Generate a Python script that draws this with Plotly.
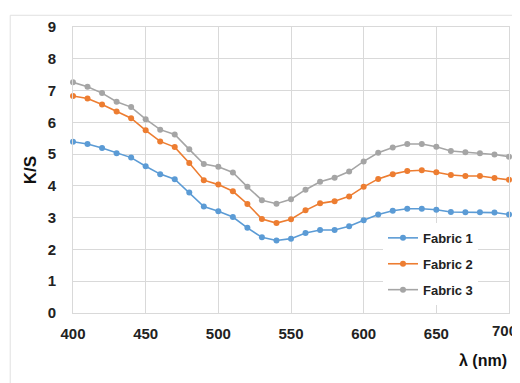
import plotly.graph_objects as go

wavelength = list(range(400, 701, 10))

fabric1 = [5.39, 5.32, 5.19, 5.03, 4.89, 4.62, 4.37, 4.21, 3.79, 3.35, 3.20,
           3.02, 2.68, 2.38, 2.28, 2.34, 2.52, 2.61, 2.61, 2.73, 2.92,
           3.10, 3.22, 3.28, 3.28, 3.25, 3.18, 3.17, 3.17, 3.16, 3.10]
fabric2 = [6.83, 6.75, 6.56, 6.34, 6.13, 5.75, 5.40, 5.22, 4.72, 4.18, 4.04,
           3.83, 3.43, 2.96, 2.83, 2.95, 3.23, 3.45, 3.52, 3.67, 3.97,
           4.22, 4.37, 4.47, 4.49, 4.43, 4.34, 4.31, 4.31, 4.25, 4.19]
fabric3 = [7.26, 7.12, 6.92, 6.65, 6.48, 6.10, 5.77, 5.62, 5.15, 4.69, 4.60,
           4.42, 3.97, 3.55, 3.44, 3.58, 3.88, 4.13, 4.26, 4.45, 4.77,
           5.04, 5.21, 5.32, 5.32, 5.23, 5.10, 5.06, 5.03, 4.99, 4.92]

series_names = ["Fabric 1", "Fabric 2", "Fabric 3"]
series_values = [fabric1, fabric2, fabric3]
colors = ["#5B9BD5", "#ED7D31", "#A5A5A5"]

x_ticks = [400, 450, 500, 550, 600, 650, 700]
y_ticks = list(range(0, 10))

FONT = "Liberation Sans, Arial, sans-serif"
TICKFONT = dict(family=FONT, size=15, color="#222222", weight="bold")

fig = go.Figure()
for name, vals, col in zip(series_names, series_values, colors):
    fig.add_trace(go.Scatter(
        x=wavelength, y=vals, name=name, mode="lines+markers",
        line=dict(color=col, width=1.6),
        marker=dict(color=col, size=6),
        legendgroup=name,
        cliponaxis=False,
    ))

fig.update_layout(
    width=512, height=375,
    margin=dict(l=65, r=10, t=15, b=70),
    paper_bgcolor="white", plot_bgcolor="white",
    font=dict(family=FONT, color="#000000"),
    showlegend=True,
    legend=dict(
        x=0.711, y=0.315, xanchor="left", yanchor="top",
        bgcolor="white", borderwidth=0,
        font=dict(family=FONT, size=13, color="#222222", weight="bold"),
        tracegroupgap=6, traceorder="grouped",
        itemwidth=30,
    ),
    xaxis=dict(
        range=[400, 700], tickvals=x_ticks, ticks="",
        showgrid=True, gridcolor="#D9D9D9", gridwidth=1,
        showline=True, linecolor="#D9D9D9", linewidth=1, mirror=True,
        zeroline=False,
        tickfont=TICKFONT,
        ticklabelstandoff=7,
    ),
    yaxis=dict(
        range=[0, 9], tickvals=y_ticks, ticks="",
        showgrid=True, gridcolor="#D9D9D9", gridwidth=1,
        showline=True, linecolor="#D9D9D9", linewidth=1, mirror=True,
        zeroline=False,
        tickfont=TICKFONT,
        ticklabelstandoff=13,
        title=dict(text="K/S", font=dict(family=FONT, size=17, color="#111111", weight="bold"), standoff=6),
    ),
    annotations=[
        dict(
            text="λ (nm)", xref="paper", yref="paper", x=1.0, y=-0.165,
            xanchor="right", yanchor="middle", showarrow=False,
            font=dict(family=FONT, size=16, color="#111111", weight="bold"),
        ),
        dict(
            text=str(x_ticks[-1]), xref="x", yref="paper", x=x_ticks[-1], y=-0.062,
            xanchor="center", yanchor="middle", showarrow=False, xshift=-5,
            font=TICKFONT,
        ),
    ],
    shapes=[dict(
        type="rect", xref="paper", yref="paper",
        x0=-0.144, x1=1.03, y0=-0.3, y1=1.041,
        line=dict(color="#E0E0E0", width=1), fillcolor="rgba(0,0,0,0)", layer="below",
    )],
)

fig.write_html("out.html")
